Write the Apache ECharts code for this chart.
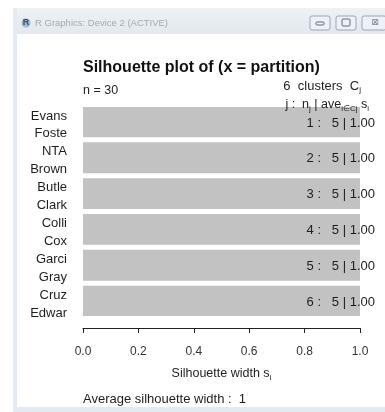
<!DOCTYPE html>
<html>
<head>
<meta charset="utf-8">
<script src="https://cdn.jsdelivr.net/npm/echarts@6/dist/echarts.min.js"></script>
<style>
  html, body { margin: 0; padding: 0; background: #ffffff; }
  #chart { width: 385px; height: 412px; }
</style>
</head>
<body>
<div id="chart"></div>
<script>
// Silhouette widths of the 30 observations, in plotting order (top to bottom)
const silWidths = [1, 1, 1, 1, 1, 1, 1, 1, 1, 1, 1, 1, 1, 1, 1,
                   1, 1, 1, 1, 1, 1, 1, 1, 1, 1, 1, 1, 1, 1, 1];
// Cluster membership for each observation
const clusterOf = [1, 1, 1, 1, 1, 2, 2, 2, 2, 2, 3, 3, 3, 3, 3,
                   4, 4, 4, 4, 4, 5, 5, 5, 5, 5, 6, 6, 6, 6, 6];
// Row names that fit on the axis (others are left blank, as R drops overlapping labels)
const rowNames = ['', 'Evans', '', '', 'Foste', '', 'NTA', '', '', 'Brown',
                  '', 'Butle', '', '', 'Clark', '', 'Colli', '', '', 'Cox',
                  '', 'Garci', '', '', 'Gray', '', 'Cruz', '', '', 'Edwar'];
// Per-cluster summary: id, size, average silhouette width
const clusterIds = [1, 2, 3, 4, 5, 6];
const clusterSizes = [5, 5, 5, 5, 5, 5];
const clusterAvg = [1.00, 1.00, 1.00, 1.00, 1.00, 1.00];
const avgWidth = 1;

// Build the category slots: one per observation, plus an empty spacer between clusters
const slots = [];
const barData = [];
silWidths.forEach((w, i) => {
  if (i > 0 && clusterOf[i] !== clusterOf[i - 1]) {
    slots.push('');
    barData.push('-');
  }
  slots.push(rowNames[i]);
  // middle member of each cluster carries the cluster summary label
  const c = clusterOf[i];
  const members = clusterOf.map((v, k) => v === c ? k : -1).filter(k => k >= 0);
  const mid = members[Math.floor(members.length / 2)];
  if (i === mid) {
    const ci = clusterIds.indexOf(c);
    barData.push({
      value: w,
      label: {
        show: true,
        formatter: clusterIds[ci] + ' :   ' + clusterSizes[ci] + ' | ' + clusterAvg[ci].toFixed(2)
      }
    });
  } else {
    barData.push(w);
  }
});

const FONT = '"Liberation Sans", Arial, sans-serif';
const TXT = '#1e1e1e';
const BAR = '#c2c2c2';

const chart = echarts.init(document.getElementById('chart'), null, { renderer: 'canvas' });

chart.setOption({
  backgroundColor: '#ffffff',
  animation: false,
  title: {
    text: 'Silhouette plot of (x = partition)',
    left: 78,
    top: 55,
    textStyle: { fontFamily: FONT, fontSize: 16, fontWeight: 'bold', color: '#111' }
  },
  grid: { left: 83, right: 25, top: 107, bottom: 96, containLabel: false },
  xAxis: {
    type: 'value',
    min: 0,
    max: 1,
    interval: 0.2,
    offset: 12,
    axisLine: { show: true, lineStyle: { color: '#222', width: 1 } },
    axisTick: { show: true, length: 5, lineStyle: { color: '#222' } },
    splitLine: { show: false },
    axisLabel: {
      margin: 18,
      fontFamily: FONT,
      fontSize: 12,
      color: '#333',
      formatter: v => v.toFixed(1)
    },
    name: '{t|Silhouette width s}{s|i}',
    nameLocation: 'middle',
    nameGap: 38,
    nameTextStyle: {
      rich: {
        t: { fontFamily: FONT, fontSize: 12.5, color: TXT },
        s: { fontFamily: FONT, fontSize: 8, color: TXT, verticalAlign: 'bottom', padding: [8, 0, 0, 0] }
      }
    }
  },
  yAxis: {
    type: 'category',
    inverse: true,
    data: slots,
    axisLine: { show: false },
    axisTick: { show: false },
    axisLabel: {
      interval: 0,
      margin: 16,
      fontFamily: FONT,
      fontSize: 13,
      color: TXT,
      padding: [4, 0, 0, 0]
    }
  },
  series: [{
    type: 'bar',
    data: barData,
    // slightly wider than one slot so neighbouring bars in a cluster merge without seams
    barWidth: 6.9,
    itemStyle: { color: BAR },
    label: {
      show: false,
      position: 'insideRight',
      distance: 0,
      offset: [15, 1],
      fontFamily: FONT,
      fontSize: 13,
      color: TXT
    }
  }],
  graphic: [
    // window frame
    { type: 'rect', shape: { x: 13, y: 8, width: 372, height: 26 },
      style: { fill: new echarts.graphic.LinearGradient(0, 0, 0, 1, [
        { offset: 0, color: '#eef2f6' }, { offset: 1, color: '#e2e8ee' }]) } },
    { type: 'rect', shape: { x: 13, y: 8, width: 4, height: 404 }, style: { fill: '#e3eaf1' } },
    { type: 'rect', shape: { x: 13, y: 407, width: 372, height: 5 }, style: { fill: '#e3eaf1' } },
    { type: 'circle', shape: { cx: 26, cy: 23, r: 4.5 }, style: { fill: '#aab8c8' } },
    { type: 'text', x: 26, y: 23, style: { text: 'R', font: 'bold 9px ' + FONT, fill: '#2a4f8a', align: 'center', verticalAlign: 'middle' } },
    { type: 'text', x: 35, y: 23, style: { text: 'R Graphics: Device 2 (ACTIVE)', font: '9.5px ' + FONT, fill: '#a3abb4', verticalAlign: 'middle' } },
    { type: 'rect', shape: { x: 310, y: 16, width: 20, height: 14, r: 2 }, style: { fill: '#eef2f6', stroke: '#9aa6b3', lineWidth: 1 } },
    { type: 'rect', shape: { x: 316, y: 22, width: 8, height: 3, r: 1 }, style: { fill: 'none', stroke: '#5f6c7a', lineWidth: 1 } },
    { type: 'rect', shape: { x: 336, y: 16, width: 20, height: 14, r: 2 }, style: { fill: '#eef2f6', stroke: '#9aa6b3', lineWidth: 1 } },
    { type: 'rect', shape: { x: 342, y: 19, width: 8, height: 7, r: 1 }, style: { fill: 'none', stroke: '#5f6c7a', lineWidth: 1 } },
    { type: 'rect', shape: { x: 362, y: 16, width: 24, height: 14, r: 2 }, style: { fill: '#eef2f6', stroke: '#9aa6b3', lineWidth: 1 } },
    { type: 'text', x: 375, y: 23, style: { text: '⊠', font: '9px "DejaVu Sans"', fill: '#7a8694', align: 'center', verticalAlign: 'middle' } },
    // header texts
    { type: 'text', x: 83, y: 91, style: { text: 'n = 30', font: '12.5px ' + FONT, fill: TXT, verticalAlign: 'middle' } },
    { type: 'text', x: 361, y: 86, z: 10, style: {
      text: '{t|' + clusterIds.length + '  clusters  C}{s|j}',
      align: 'right', verticalAlign: 'middle',
      rich: {
        t: { font: '13px ' + FONT, fill: TXT },
        s: { font: '8px ' + FONT, fill: TXT, padding: [8, 0, 0, 0] }
      } } },
    { type: 'text', x: 369, y: 105, z: 10, style: {
      text: '{t|j :  n}{s|j}{t| | ave}{s|i∈Cj}{t| s}{s|i}',
      align: 'right', verticalAlign: 'middle',
      rich: {
        t: { font: '12.5px ' + FONT, fill: TXT },
        s: { font: '8px ' + FONT, fill: TXT, padding: [8, 0, 0, 0] }
      } } },
    { type: 'text', x: 83, y: 399, style: { text: 'Average silhouette width :  ' + avgWidth, font: '13px ' + FONT, fill: TXT, verticalAlign: 'middle' } }
  ]
});
</script>
</body>
</html>
